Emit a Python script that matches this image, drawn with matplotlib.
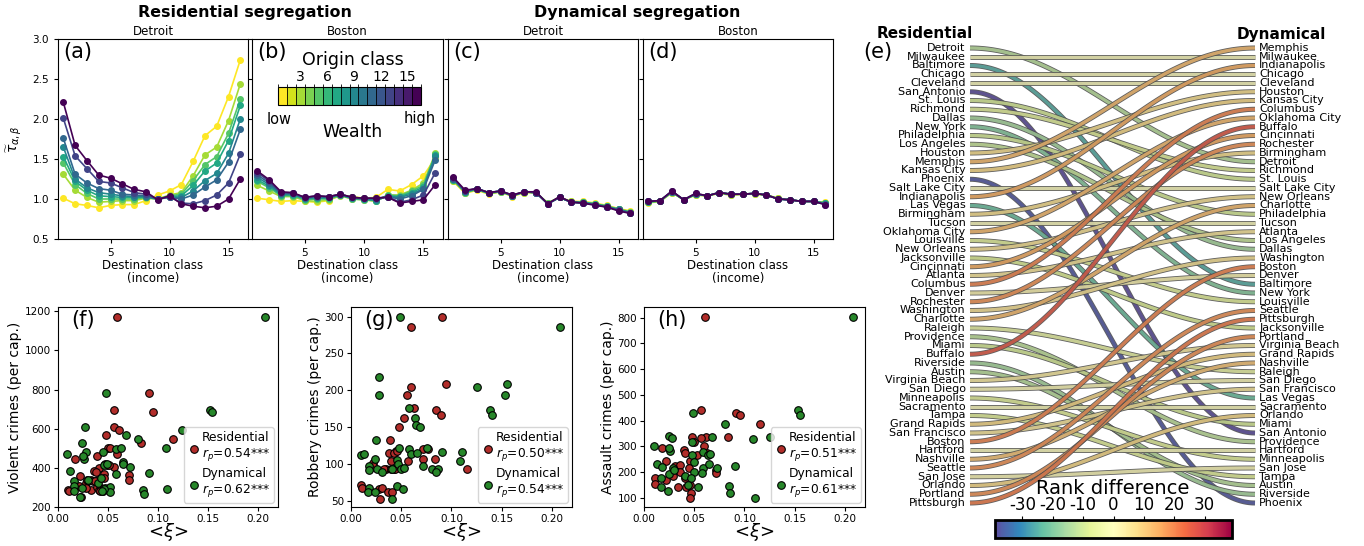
import numpy as np
import matplotlib
matplotlib.use('Agg')
import matplotlib.pyplot as plt
import matplotlib.colors as mcolors
import matplotlib.patheffects as pe
from matplotlib.cm import ScalarMappable

plt.rcParams['axes.unicode_minus'] = False

W, H = 1364, 546

def box(x0, y0, x1, y1):
    """ pixel box (top-left origin) -> figure rect """
    return [x0 / W, 1 - y1 / H, (x1 - x0) / W, (y1 - y0) / H]

#################################
## data
#################################
dest_classes = np.arange(1, 17)
origin_classes = [1, 3, 5, 7, 9, 11, 13, 16]

# (a) residential, Detroit  (rows = origin classes, low -> high)
res_detroit = [
    [1.01, 0.94, 0.92, 0.89, 0.92, 0.93, 0.93, 0.98, 1.05, 1.10, 1.18, 1.47, 1.79, 1.91, 2.28, 2.74],
    [1.31, 1.11, 1.02, 0.96, 0.97, 0.98, 0.98, 1.01, 1.00, 1.05, 1.08, 1.29, 1.55, 1.65, 1.98, 2.44],
    [1.45, 1.18, 1.07, 1.00, 1.00, 1.00, 1.00, 1.02, 1.00, 1.04, 1.06, 1.23, 1.43, 1.53, 1.82, 2.25],
    [1.53, 1.22, 1.11, 1.04, 1.03, 1.02, 1.02, 1.02, 1.00, 1.03, 1.04, 1.17, 1.35, 1.45, 1.73, 2.17],
    [1.65, 1.25, 1.14, 1.08, 1.06, 1.04, 1.03, 1.03, 1.00, 1.02, 1.02, 1.10, 1.23, 1.32, 1.57, 2.00],
    [1.76, 1.31, 1.20, 1.13, 1.11, 1.06, 1.05, 1.04, 1.00, 1.02, 1.00, 1.05, 1.15, 1.24, 1.46, 1.87],
    [2.01, 1.54, 1.38, 1.22, 1.20, 1.14, 1.08, 1.06, 1.00, 1.03, 0.95, 0.94, 0.98, 1.05, 1.20, 1.56],
    [2.21, 1.67, 1.48, 1.30, 1.26, 1.19, 1.12, 1.09, 0.99, 1.04, 0.94, 0.91, 0.89, 0.91, 1.00, 1.25],
]
# (b) residential, Boston
res_boston = [
    [1.01, 0.99, 0.97, 0.98, 0.97, 0.96, 0.98, 1.05, 1.03, 1.01, 1.02, 1.12, 1.10, 1.18, 1.29, 1.51],
    [1.17, 1.10, 1.03, 1.03, 0.98, 0.97, 0.99, 1.04, 1.00, 0.99, 0.97, 1.05, 1.05, 1.11, 1.20, 1.57],
    [1.22, 1.14, 1.04, 1.04, 0.99, 1.00, 1.00, 1.05, 1.00, 0.99, 0.98, 1.05, 1.04, 1.10, 1.17, 1.56],
    [1.24, 1.16, 1.05, 1.05, 1.00, 1.01, 1.01, 1.05, 1.01, 1.00, 0.98, 1.04, 1.03, 1.08, 1.15, 1.55],
    [1.27, 1.18, 1.06, 1.06, 1.01, 1.02, 1.02, 1.05, 1.01, 1.00, 0.99, 1.03, 1.02, 1.06, 1.13, 1.54],
    [1.30, 1.20, 1.07, 1.07, 1.01, 1.03, 1.02, 1.06, 1.02, 1.01, 1.00, 1.03, 1.00, 1.04, 1.12, 1.49],
    [1.33, 1.22, 1.08, 1.07, 1.02, 1.04, 1.03, 1.06, 1.02, 1.01, 1.01, 1.03, 0.96, 0.99, 1.05, 1.33],
    [1.35, 1.24, 1.09, 1.08, 1.02, 1.04, 1.03, 1.06, 1.02, 1.01, 1.01, 1.02, 0.95, 0.97, 0.99, 1.18],
]
# (c) dynamical, Detroit
dyn_detroit = [
    [1.22, 1.07, 1.11, 1.06, 1.09, 1.03, 1.08, 1.08, 0.95, 1.02, 0.97, 0.97, 0.95, 0.92, 0.88, 0.85],
    [1.23, 1.08, 1.12, 1.07, 1.09, 1.04, 1.08, 1.08, 0.95, 1.02, 0.97, 0.96, 0.94, 0.91, 0.88, 0.84],
    [1.24, 1.08, 1.12, 1.07, 1.09, 1.04, 1.09, 1.08, 0.95, 1.02, 0.96, 0.96, 0.94, 0.91, 0.87, 0.84],
    [1.24, 1.09, 1.12, 1.07, 1.10, 1.04, 1.09, 1.08, 0.94, 1.02, 0.96, 0.96, 0.94, 0.91, 0.87, 0.83],
    [1.25, 1.09, 1.13, 1.08, 1.10, 1.04, 1.09, 1.08, 0.94, 1.02, 0.96, 0.95, 0.93, 0.90, 0.87, 0.83],
    [1.25, 1.10, 1.13, 1.08, 1.10, 1.04, 1.09, 1.08, 0.94, 1.02, 0.96, 0.95, 0.93, 0.90, 0.86, 0.83],
    [1.26, 1.10, 1.13, 1.08, 1.10, 1.05, 1.09, 1.08, 0.94, 1.02, 0.96, 0.95, 0.93, 0.90, 0.86, 0.82],
    [1.27, 1.11, 1.13, 1.08, 1.10, 1.05, 1.09, 1.09, 0.94, 1.03, 0.96, 0.95, 0.92, 0.90, 0.85, 0.82],
]
# (d) dynamical, Boston
dyn_boston = [
    [0.95, 0.97, 1.08, 0.99, 1.05, 1.04, 1.07, 1.05, 1.06, 1.06, 1.05, 1.01, 0.99, 0.97, 0.97, 0.96],
    [0.96, 0.97, 1.08, 0.99, 1.05, 1.04, 1.07, 1.05, 1.06, 1.06, 1.05, 1.01, 0.99, 0.97, 0.97, 0.95],
    [0.96, 0.97, 1.09, 0.99, 1.06, 1.04, 1.08, 1.06, 1.06, 1.07, 1.05, 1.00, 0.99, 0.97, 0.97, 0.95],
    [0.96, 0.98, 1.09, 0.99, 1.06, 1.04, 1.08, 1.06, 1.06, 1.07, 1.05, 1.00, 0.99, 0.97, 0.97, 0.95],
    [0.97, 0.98, 1.09, 0.99, 1.06, 1.04, 1.08, 1.06, 1.06, 1.07, 1.05, 1.00, 0.99, 0.97, 0.97, 0.94],
    [0.97, 0.98, 1.09, 0.99, 1.06, 1.04, 1.08, 1.06, 1.06, 1.07, 1.05, 1.00, 0.99, 0.97, 0.97, 0.94],
    [0.97, 0.98, 1.10, 0.99, 1.07, 1.04, 1.08, 1.06, 1.06, 1.07, 1.05, 1.00, 0.99, 0.97, 0.97, 0.93],
    [0.97, 0.98, 1.10, 0.99, 1.07, 1.04, 1.08, 1.06, 1.06, 1.07, 1.05, 1.00, 0.99, 0.97, 0.97, 0.93],
]

# (e) city rankings
rank_residential = [
    'Detroit', 'Milwaukee', 'Baltimore', 'Chicago', 'Cleveland', 'San Antonio', 'St. Louis',
    'Richmond', 'Dallas', 'New York', 'Philadelphia', 'Los Angeles', 'Houston', 'Memphis',
    'Kansas City', 'Phoenix', 'Salt Lake City', 'Indianapolis', 'Las Vegas', 'Birmingham',
    'Tucson', 'Oklahoma City', 'Louisville', 'New Orleans', 'Jacksonville', 'Cincinnati',
    'Atlanta', 'Columbus', 'Denver', 'Rochester', 'Washington', 'Charlotte', 'Raleigh',
    'Providence', 'Miami', 'Buffalo', 'Riverside', 'Austin', 'Virginia Beach', 'San Diego',
    'Minneapolis', 'Sacramento', 'Tampa', 'Grand Rapids', 'San Francisco', 'Boston',
    'Hartford', 'Nashville', 'Seattle', 'San Jose', 'Orlando', 'Portland', 'Pittsburgh']
rank_dynamical = [
    'Memphis', 'Milwaukee', 'Indianapolis', 'Chicago', 'Cleveland', 'Houston', 'Kansas City',
    'Columbus', 'Oklahoma City', 'Buffalo', 'Cincinnati', 'Rochester', 'Birmingham', 'Detroit',
    'Richmond', 'St. Louis', 'Salt Lake City', 'New Orleans', 'Charlotte', 'Philadelphia',
    'Tucson', 'Atlanta', 'Los Angeles', 'Dallas', 'Washington', 'Boston', 'Denver',
    'Baltimore', 'New York', 'Louisville', 'Seattle', 'Pittsburgh', 'Jacksonville', 'Portland',
    'Virginia Beach', 'Grand Rapids', 'Nashville', 'Raleigh', 'San Diego', 'San Francisco',
    'Las Vegas', 'Sacramento', 'Orlando', 'Miami', 'San Antonio', 'Providence', 'Hartford',
    'Minneapolis', 'San Jose', 'Tampa', 'Austin', 'Riverside', 'Phoenix']

# (f) violent crimes
f_res_x = [0.059, 0.091, 0.095, 0.056, 0.056, 0.061, 0.048, 0.115, 0.083, 0.050, 0.052, 0.059,
           0.017, 0.039, 0.047, 0.056, 0.041, 0.036, 0.038, 0.071, 0.071, 0.046, 0.022, 0.010,
           0.011, 0.023, 0.021, 0.028, 0.029, 0.033, 0.033, 0.039, 0.040, 0.041, 0.043, 0.045,
           0.046, 0.049, 0.051, 0.035, 0.037, 0.028, 0.042]
f_res_y = [1171, 785, 683, 697, 608, 595, 566, 546, 525, 502, 500, 473,
           446, 459, 420, 402, 400, 385, 381, 366, 336, 368, 356, 285,
           281, 251, 307, 324, 336, 339, 288, 303, 336, 288, 298, 281,
           349, 413, 415, 332, 332, 298, 281]
f_dyn_x = [0.207, 0.048, 0.152, 0.154, 0.027, 0.124, 0.068, 0.080, 0.024, 0.108, 0.058, 0.063,
           0.009, 0.028, 0.026, 0.025, 0.045, 0.065, 0.065, 0.072, 0.046, 0.049, 0.012, 0.091,
           0.047, 0.058, 0.016, 0.016, 0.030, 0.040, 0.043, 0.052, 0.052, 0.046, 0.044, 0.016,
           0.022, 0.024, 0.085, 0.086, 0.109]
f_dyn_y = [1171, 785, 697, 683, 608, 595, 566, 546, 527, 500, 498, 500,
           473, 480, 446, 459, 483, 430, 419, 402, 417, 420, 386, 376,
           297, 369, 332, 307, 339, 325, 346, 303, 276, 293, 281, 281,
           251, 297, 285, 264, 292]

# (g) robbery crimes
g_res_x = [0.091, 0.060, 0.095, 0.060, 0.056, 0.063, 0.085, 0.090, 0.053, 0.048, 0.039, 0.038,
           0.045, 0.043, 0.072, 0.077, 0.084, 0.072, 0.115, 0.022, 0.019, 0.022, 0.035, 0.033,
           0.040, 0.043, 0.057, 0.010, 0.011, 0.028, 0.031, 0.029, 0.037, 0.041, 0.040, 0.046,
           0.044, 0.050]
g_res_y = [300, 286, 209, 205, 194, 176, 174, 167, 162, 150, 133, 115,
           118, 115, 120, 121, 107, 107, 94, 102, 95, 98, 93, 94,
           93, 94, 104, 72, 68, 67, 68, 53, 62, 62, 104, 118,
           93, 95]
g_dyn_x = [0.049, 0.208, 0.028, 0.028, 0.125, 0.155, 0.153, 0.058, 0.138, 0.140, 0.064, 0.065,
           0.069, 0.025, 0.010, 0.013, 0.048, 0.058, 0.060, 0.066, 0.076, 0.091, 0.110, 0.109,
           0.024, 0.018, 0.018, 0.026, 0.031, 0.041, 0.046, 0.047, 0.050, 0.053, 0.072, 0.081,
           0.087, 0.085, 0.018, 0.017, 0.024, 0.041, 0.046, 0.052]
g_dyn_y = [300, 286, 218, 194, 205, 209, 194, 176, 174, 167, 162, 153,
           150, 133, 112, 114, 122, 120, 114, 115, 122, 116, 117, 104,
           107, 97, 92, 94, 90, 94, 106, 100, 93, 95, 97, 94,
           94, 89, 68, 62, 62, 53, 71, 66]

# (h) assault crimes
h_res_x = [0.061, 0.057, 0.092, 0.096, 0.115, 0.084, 0.062, 0.057, 0.048, 0.050, 0.040, 0.041,
           0.018, 0.060, 0.063, 0.046, 0.053, 0.022, 0.031, 0.036, 0.036, 0.045, 0.072, 0.072,
           0.011, 0.011, 0.022, 0.029, 0.034, 0.042, 0.047, 0.046, 0.041, 0.046]
h_res_y = [804, 441, 429, 421, 388, 338, 338, 332, 335, 316, 285, 273,
           295, 300, 275, 244, 267, 245, 223, 228, 202, 215, 209, 198,
           179, 153, 169, 185, 143, 143, 118, 100, 176, 150]
h_dyn_x = [0.208, 0.049, 0.153, 0.155, 0.081, 0.125, 0.109, 0.025, 0.028, 0.068, 0.048, 0.010,
           0.026, 0.025, 0.059, 0.064, 0.066, 0.048, 0.013, 0.018, 0.029, 0.025, 0.030, 0.041,
           0.050, 0.050, 0.059, 0.058, 0.065, 0.073, 0.091, 0.047, 0.017, 0.017, 0.024, 0.044,
           0.054, 0.085, 0.086, 0.110]
h_dyn_y = [804, 429, 441, 421, 388, 338, 328, 339, 332, 335, 318, 300,
           283, 295, 277, 267, 271, 267, 233, 222, 215, 192, 209, 185,
           241, 202, 215, 196, 233, 215, 224, 178, 176, 144, 128, 150,
           144, 147, 118, 100]

r_res = ['0.54', '0.50', '0.51']
r_dyn = ['0.62', '0.54', '0.61']

#################################
## figure
#################################
fig = plt.figure(figsize=(W / 100, H / 100), dpi=100)
viridis_r = plt.get_cmap('viridis_r')
class_norm = mcolors.Normalize(vmin=1, vmax=16)

top_boxes = [(58, 39, 248, 239), (252, 39, 443, 239), (448, 39, 638, 239), (643, 39, 833, 239)]
top_data = [res_detroit, res_boston, dyn_detroit, dyn_boston]
top_titles = ['Detroit', 'Boston', 'Detroit', 'Boston']
top_tags = ['(a)', '(b)', '(c)', '(d)']
top_axes = []
for i in range(4):
    ax = fig.add_axes(box(*top_boxes[i]))
    for cls, row in zip(origin_classes, top_data[i]):
        ax.plot(dest_classes, row, '-o', color=viridis_r(class_norm(cls)), lw=1.2, ms=4)
    ax.set_xlim(0.55, 16.65)
    ax.set_ylim(0.5, 3.0)
    ax.set_xticks([5, 10, 15])
    ax.set_yticks([0.5, 1.0, 1.5, 2.0, 2.5, 3.0])
    ax.tick_params(labelsize=7.5, length=3)
    if i > 0:
        ax.set_yticklabels([])
    ax.set_title(top_titles[i], fontsize=8.5, pad=3)
    ax.set_xlabel('Destination class\n(income)', fontsize=8.5, labelpad=1, linespacing=1.0)
    ax.text(0.03, 0.985, top_tags[i], transform=ax.transAxes, ha='left', va='top', fontsize=15)
    top_axes.append(ax)
top_axes[0].set_ylabel(r'$\widetilde{\tau}_{\alpha,\beta}$', fontsize=10, labelpad=6)

fig.text(245 / W, 1 - 13 / H, 'Residential segregation', ha='center', va='center',
         fontsize=11.4, fontweight='bold')
fig.text(637 / W, 1 - 13 / H, 'Dynamical segregation', ha='center', va='center',
         fontsize=11.4, fontweight='bold')

# origin class colorbar inside (b)
cax = fig.add_axes(box(278, 87, 421, 105))
bounds = np.arange(0.5, 17.5, 1)
disc = mcolors.ListedColormap([viridis_r(class_norm(c)) for c in range(1, 17)])
cb = fig.colorbar(ScalarMappable(norm=mcolors.BoundaryNorm(bounds, 16), cmap=disc),
                  cax=cax, orientation='horizontal', drawedges=True, ticks=[3, 6, 9, 12, 15])
cb.ax.xaxis.set_ticks_position('top')
cb.ax.tick_params(labelsize=10, length=0, pad=2)
cb.dividers.set_linewidth(0.6)
cb.outline.set_linewidth(0.8)
fig.text(353 / W, 1 - 60 / H, 'Origin class', ha='center', va='center', fontsize=12.5)
fig.text(279 / W, 1 - 119 / H, 'low', ha='center', va='center', fontsize=10.5)
fig.text(420 / W, 1 - 119 / H, 'high', ha='center', va='center', fontsize=10.5)
fig.text(353 / W, 1 - 132 / H, 'Wealth', ha='center', va='center', fontsize=12.5)

# scatter panels
sc_boxes = [(58, 307, 278, 507), (351, 307, 572, 507), (644, 307, 865, 507)]
sc_res = [(f_res_x, f_res_y), (g_res_x, g_res_y), (h_res_x, h_res_y)]
sc_dyn = [(f_dyn_x, f_dyn_y), (g_dyn_x, g_dyn_y), (h_dyn_x, h_dyn_y)]
sc_ylabels = ['Violent crimes (per cap.)', 'Robbery crimes (per cap.)', 'Assault crimes (per cap.)']
sc_ylims = [(200, 1222), (42, 313), (65, 841)]
sc_yticks = [np.arange(200, 1201, 200), np.arange(50, 301, 50), np.arange(100, 801, 100)]
sc_tags = ['(f)', '(g)', '(h)']
for i in range(3):
    ax = fig.add_axes(box(*sc_boxes[i]))
    ax.scatter(sc_res[i][0], sc_res[i][1], s=30, color='#b22d2a', edgecolor='k', lw=0.8,
               label='Residential\n$r_p$=' + r_res[i] + '***', zorder=3)
    ax.scatter(sc_dyn[i][0], sc_dyn[i][1], s=30, color='#27872a', edgecolor='k', lw=0.8,
               label='Dynamical\n$r_p$=' + r_dyn[i] + '***', zorder=3)
    ax.set_xlim(0, 0.22)
    ax.set_ylim(*sc_ylims[i])
    ax.set_xticks([0.0, 0.05, 0.10, 0.15, 0.20])
    ax.set_xticklabels(['0.00', '0.05', '0.10', '0.15', '0.20'])
    ax.set_yticks(sc_yticks[i])
    ax.tick_params(labelsize=7.5, length=3, pad=2)
    ax.set_xlabel('<$\\xi$>', fontsize=13, labelpad=-2)
    ax.set_ylabel(sc_ylabels[i], fontsize=10, labelpad=2)
    ax.text(0.06, 0.985, sc_tags[i], transform=ax.transAxes, ha='left', va='top', fontsize=15)
    ax.legend(loc='lower right', fontsize=8.8, handletextpad=0.05, borderpad=0.3,
              labelspacing=0.3, handlelength=1.1, borderaxespad=0.35)

# (e) bump chart
n = len(rank_residential)
axb = fig.add_axes(box(970, 48, 1255, 503))
axb.set_xlim(0, 1)
axb.set_ylim(n, 1)
axb.axis('off')
diff_max = 39
spec_norm = mcolors.Normalize(vmin=-diff_max, vmax=diff_max)
spec = plt.get_cmap('Spectral_r')
t = np.linspace(0, 1, 100)
smooth = (1 - np.cos(np.pi * t)) / 2
for i, city in enumerate(rank_residential):
    left = i + 1
    right = rank_dynamical.index(city) + 1
    clr = spec(spec_norm(left - right))
    axb.plot(t, left + (right - left) * smooth, color=clr, lw=2.4, alpha=0.72,
             solid_capstyle='butt', clip_on=False,
             path_effects=[pe.Stroke(linewidth=3.6, foreground='0.3', alpha=0.9), pe.Normal()])
for i, city in enumerate(rank_residential):
    axb.text(-0.015, i + 1, city, ha='right', va='center', fontsize=8)
for i, city in enumerate(rank_dynamical):
    axb.text(1.015, i + 1, city, ha='left', va='center', fontsize=8)
fig.text(925 / W, 1 - 34 / H, 'Residential', ha='center', va='center', fontsize=11, fontweight='bold')
fig.text(1281 / W, 1 - 34 / H, 'Dynamical', ha='center', va='center', fontsize=11, fontweight='bold')
fig.text(878 / W, 1 - 52 / H, '(e)', ha='center', va='center', fontsize=15)

cax2 = fig.add_axes(box(995, 520, 1232, 538))
cb2 = fig.colorbar(ScalarMappable(norm=spec_norm, cmap=spec), cax=cax2, orientation='horizontal',
                   ticks=[-30, -20, -10, 0, 10, 20, 30])
cb2.ax.xaxis.set_ticks_position('top')
cb2.ax.tick_params(labelsize=12, length=3, pad=1)
cb2.outline.set_linewidth(2)
fig.text(1113 / W, 1 - 489 / H, 'Rank difference', ha='center', va='center', fontsize=14)

fig.savefig('out.png', dpi=100)
